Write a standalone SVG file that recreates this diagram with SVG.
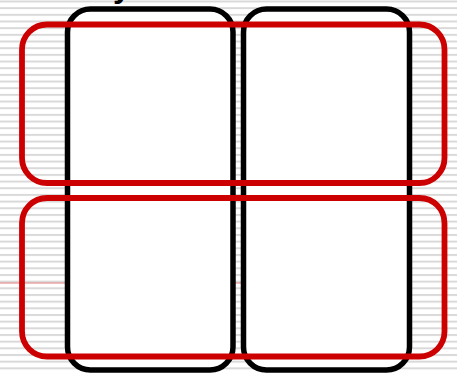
<svg xmlns="http://www.w3.org/2000/svg" width="457" height="374" viewBox="0 0 457 374">
  <defs>
    <pattern id="stripes" x="0" y="0.5" width="10" height="6.67" patternUnits="userSpaceOnUse">
      <rect x="0" y="0" width="10" height="2" fill="#d9d9d9"/>
    </pattern>
  </defs>
  <style>
    .col { fill: #ffffff; stroke: #000000; stroke-width: 5.5; }
    .row { fill: none; stroke: #cc0000; stroke-width: 5.8; }
    .guide { stroke: #e07a7a; stroke-width: 1.2; fill: none; }
    .label { font-family: "Liberation Sans", Arial, sans-serif; font-weight: bold; font-size: 32px; fill: #000; }
  </style>
  <rect x="0" y="0" width="457" height="374" fill="#ffffff"/>
  <rect x="0" y="0" width="457" height="374" fill="url(#stripes)"/>
  <text class="label" x="113" y="-3">y</text>
  <g id="connectors">
    <line class="guide" x1="0" y1="283" x2="242" y2="283"/>
  </g>
  <g id="col-left">
    <rect class="col" x="67.5" y="9" width="165.5" height="361" rx="23" ry="23"/>
  </g>
  <g id="col-right">
    <rect class="col" x="243.5" y="9" width="166" height="361" rx="23" ry="23"/>
  </g>
  <g id="row-top">
    <rect class="row" x="22" y="24.5" width="422.5" height="158.5" rx="25" ry="25"/>
  </g>
  <g id="row-bottom">
    <rect class="row" x="22" y="198" width="422.5" height="158.5" rx="25" ry="25"/>
  </g>
</svg>
